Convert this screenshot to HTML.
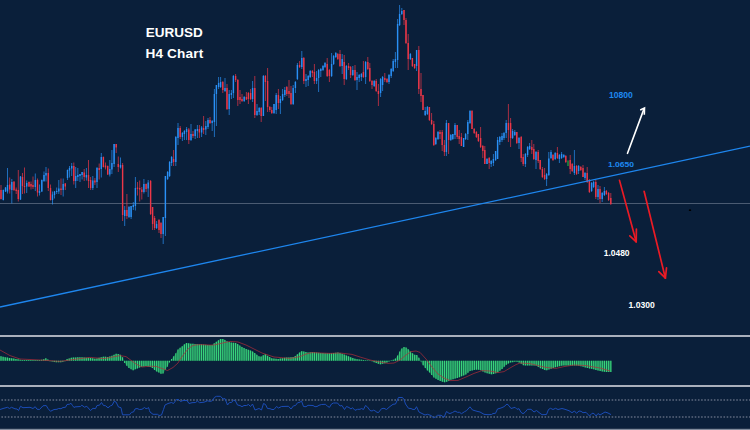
<!DOCTYPE html>
<html><head><meta charset="utf-8"><title>EURUSD H4 Chart</title>
<style>
html,body{margin:0;padding:0;background:#0a1f3a;}
body{width:750px;height:430px;overflow:hidden;position:relative;font-family:"Liberation Sans",sans-serif;}
svg{position:absolute;left:0;top:0;display:block}
text{font-family:"Liberation Sans",sans-serif;font-weight:bold}
</style></head><body>
<svg width="750" height="430" viewBox="0 0 750 430">
<rect x="0" y="0" width="750" height="430" fill="#0a1f3a"/>
<!-- horizontal level -->
<line x1="0" y1="203.5" x2="750" y2="203.5" stroke="#4b5b72" stroke-width="1.2"/>
<!-- candles -->
<g><path d="M3.3 189.5V200.5M5.5 187V192M7.5 168V193.5M11.8 179V203.5M20.5 176V200M26.7 180.5V193M35.3 173.5V191M39.5 184.5V195.5M41.8 179.5V192M44 171.5V182M46 167V181.5M52.5 191.5V204.5M54.5 191V198.5M56.7 187.5V194M58.8 180V194M63.2 178.5V196.5M67.5 169.5V180M69.5 166V177.5M71.7 163V176M75.7 167V188M77.8 168V181M80 174V182M82.1 172V179.5M86.4 168V180.5M92.8 176V190M97 167V188M101.3 153V177.5M109.8 160V176.5M111.9 150V174M114.1 144V167M120.5 157.5V168.5M124.7 206V226M129 206V218M131.1 206V219M133.3 202V210M135.4 177V210.5M143.9 179V193.5M148.2 180V197M156.6 221V229M163.2 217V244M165.4 176V236M167.6 171V180M169.6 161V177M171.6 156V166M175.8 136V166M178 123V145M182.4 132V141M184.4 130V140M186.6 127V140M191 124V141M195.2 129V139M197.4 125V138M201.6 126V137M205.8 121V135M208 118V129M212.2 120V131M214.4 89V137M216.4 85V126M218.6 77V89M220.6 77V88M225 78V92M229.2 90V115M231.4 90V99M233.4 75V98M244.2 96V102M252.6 81V102M257 104V116M259.2 107V115M263.4 75V116M274 104V114M276.2 93V114M280.4 96V114M282.6 89V101M284.8 87V97M293.2 85V105M295.4 81V93M297.4 63V80M301.8 51V69M306 74V87M308.2 75V86M310.2 70V78M316.6 71V84M318.6 69V92M320.8 68V77M323 65V71M325 62V68M331.6 53V77M333.6 55V65M335.8 52V58M342.2 54V74M346.4 65V80M352.8 66V76M357 72V90M359.2 74V82M361.4 73V81M365.6 61V84M374.2 80V87M380.6 78V97M382.6 76V91M389 74V84M391.2 68V78M393.2 59V72M395.4 52V68M397.6 19V68M399.6 5V26M401.8 8V15M410.4 53V60M416.6 50V71M425.2 107V116M427.4 106V115M435.8 137V145M438 131V140M446.4 120V156M450.8 134V141M452.8 134V140M455 123V139M463.6 138V147M465.6 133V140M467.8 120V140M470 110V124M487 158V164M491.2 160V167M493.4 154V166M495.6 151V161M497.6 137V159M499.8 136V145M502 133V142M504 132V140M506.2 120V138M512.6 129V139M514.8 130V136M519 137V149M525.4 153V167M527.6 146V157M529.6 143V150M536 151V169M546.6 173V186M548.8 152V176M551 150V159M555.2 152V160M559.4 154V163M561.6 152V159M563.8 154V158M574.4 150V175M578.6 165V174M585 172V180M591.6 182V192M593.6 181V188M598 185V200M602.2 192V202M604.4 187V196" stroke="#2a90f6" stroke-width="0.7" fill="none"/><path d="M3.3 190V200M5.5 187.5V191.5M7.5 185V191.5M11.8 182V190M20.5 176.5V199.5M26.7 183V186.5M35.3 180V187M39.5 191V193M41.8 180V191.5M44 175V181M46 173V175.5M52.5 194.5V200M54.5 191.5V195M56.7 191V192M58.8 188.5V191.5M63.2 184V190M67.5 170V178M69.5 168V170.5M71.7 166V168.5M75.7 176V181M77.8 175V177M80 174V176M82.1 172V175M86.4 175V177.5M92.8 180.5V188M97 168V182M101.3 157V169M109.8 169V174.5M111.9 163V169.5M114.1 144V164M120.5 165V167.5M124.7 210V216M129 207V217M131.1 206V217M133.3 205V207M135.4 188V206M143.9 184V192M148.2 182.5V188.5M156.6 224V228M163.2 217V234M165.4 176V218M167.6 172V179M169.6 162V176M171.6 157V163M175.8 137V162M178 128V138M182.4 133V137M184.4 131V134M186.6 129V132M191 134V140M195.2 129.6V136M197.4 129V131M201.6 127.6V132.4M205.8 126V129.6M208 120V127M212.2 121V123M214.4 94V122M216.4 85V94M218.6 83V87M220.6 82V87M225 88V91M229.2 94V109M231.4 93V95M233.4 76V93M244.2 97V101M252.6 88V99M257 111V115M259.2 108V112M263.4 76V116M274 104V113M276.2 95V110M280.4 99V103M282.6 94V100M284.8 90V95M293.2 88V104M295.4 82V88M297.4 65V79M301.8 58V67M306 79V81M308.2 76V80M310.2 71V77M316.6 78V81M318.6 70V78M320.8 69V71M323 66V70M325 63V67M331.6 64V76M333.6 56V64M335.8 53V57M342.2 59V66M346.4 66V79M352.8 70V75M357 77V80M359.2 75V78M361.4 74V77M365.6 62V77M374.2 81V86M380.6 79V93M382.6 77V85M389 75V82M391.2 69V76M393.2 61V71M395.4 59V62M397.6 24V60M399.6 14V25M401.8 11V14M410.4 54V59M416.6 50V66M425.2 111V115M427.4 107V114M435.8 138V144M438 132V139M446.4 123V152M450.8 135V140M452.8 134V139M455 125V135M463.6 138V147M465.6 134V139M467.8 122V134M470 111V123M487 159V164M491.2 161V164M493.4 159V163M495.6 151V160M497.6 140V159M499.8 137V142M502 136V140M504 133V138M506.2 123V133M512.6 131V138M514.8 132V135M519 138V143M525.4 154V164M527.6 147V155M529.6 146V149M536 152V160M546.6 174V179M548.8 158.4V175M551 152V158M555.2 153V159M559.4 155V159M561.6 154V158M563.8 155V157M574.4 166V173M578.6 166V171M585 173V178M591.6 183V191M593.6 182V187M598 189V197M602.2 193V199M604.4 191V195" stroke="#2a90f6" stroke-width="1.4" fill="none"/><path d="M1 185V199.5M9.7 177.5V193.5M14 181.5V191M16.2 187.5V194M18.3 170V201.5M22.5 173V194M24.5 167.5V193.5M29 181.5V187M31 181.5V189.5M33 176.5V189M37.5 178.5V196.5M48.3 168.5V191M50.5 184.5V200.5M61 178.5V195M65.3 183V190M73.8 162.5V184.5M84.2 169V181M88.5 160V188M90.6 177V190M94.9 178V185M99.2 163.5V179.5M103.4 156.5V167.5M105.5 162.5V169.5M107.7 165.5V175M116.2 144V153M118.3 156.5V172M122.6 163V221M126.9 194V219M137.5 182V195.5M139.7 180.5V201.5M141.8 187V199.5M146.1 183.5V192M150.6 180V215M152.6 207V230M154.6 216V230M159 219V233M161 222V238M173.6 150V166M180.2 126V139M188.8 128V144M193 131V138M199.4 125V138M203.6 116V134M210 117V124M222.8 81V93M227 84V110M235.6 74V82M237.8 79V106M240 90V104M242 94V102M246.4 92V100M248.4 92V104M250.6 89V100M254.8 76V118M261.2 107V122M265.4 75V101M267.6 68V112M269.8 106V112M271.8 107V114M278.4 89V109M286.8 86V96M289 80V98M291 86V105M299.6 61V68M303.8 57V84M312.4 70V77M314.4 64V84M327.2 58V77M329.4 69V82M337.8 53V60M340 50V67M344.2 55V85M348.6 63V70M350.6 66V78M355 65V81M363.4 61V78M367.8 57V70M369.8 63V82M372 80V89M376.2 79V92M378.4 84V106M384.8 73V82M387 78V83M404 10V25M406 18V44M408.2 34V70M412.4 58V67M414.6 64V69M418.8 46V94M421 73V102M423 95V110M429.4 107V121M431.6 113V125M433.8 121V146M440 130V139M442.2 130V151M444.4 140V156M448.6 123V154M457.2 125V139M459.2 130V144M461.4 133V146M472 110V129M474.2 128V134M476.4 131V138M478.4 134V142M480.6 127V148M482.8 145V158M484.8 146V164M489.2 157V169M508.4 104V142M510.6 118V147M516.8 132V144M521.2 136V162M523.2 154V166M531.8 140V154M533.8 144V160M538.2 150V163M540.2 160V170M542.4 167V178M544.6 168V180M553 154V161M557.4 147V159M565.8 155V163M570.2 155V174M572.2 163V172M576.6 165V175M580.8 166V171M583 165V177M587.2 167V183M589.4 179V193M595.8 180V199M600 186V203M606.4 190V195M608.6 192V201M610.8 193V205" stroke="#ec3748" stroke-width="0.7" fill="none"/><path d="M1 190V199M9.7 184.5V189.5M14 181.5V190M16.2 189.5V191M18.3 190V199M22.5 177V186M24.5 186V187M29 182V186.5M31 184V186.5M33 185V187M37.5 180V192.5M48.3 173V188M50.5 188V200M61 188.5V190M65.3 183.5V186.5M73.8 166V181M84.2 172.5V177M88.5 175V181M90.6 180V188M94.9 180.5V182.5M99.2 168V170M103.4 157V167M105.5 165.5V167.5M107.7 166V174.5M116.2 144V147.5M118.3 164V167M122.6 165V215M126.9 210V216M137.5 187.5V189M139.7 188V189.5M141.8 189.5V192M146.1 184V189M150.6 181V214M152.6 207V224M154.6 218V228M159 220V230M161 223V234M173.6 159V162M180.2 128V137M188.8 129.6V140M193 134V136M199.4 129V132.4M203.6 128V130M210 120V123M222.8 82V90M227 88V109M235.6 76V80M237.8 80V100M240 97V100M242 99V101M246.4 97V99.4M248.4 93V99M250.6 93V99M254.8 88V115M261.2 108V116M265.4 76V82M267.6 81V107M269.8 107V110M271.8 110V113M278.4 95V103M286.8 87V94M289 91V94M291 93V104M299.6 65V67M303.8 58V81M312.4 71V73M314.4 72V81M327.2 64V76M329.4 70V76M337.8 54V59M340 54V66M344.2 62V79M348.6 66V68M350.6 67V75M355 70V80M363.4 72V77M367.8 62V69M369.8 68V81M372 81V85M376.2 81V91M378.4 91V94M384.8 78V80M387 79V82M404 10V20M406 20V43M408.2 43V59M412.4 58V66M414.6 64V68M418.8 50V89M421 89V96M423 95V110M429.4 107V120M431.6 120V124M433.8 124V145M440 132V134M442.2 132V145M444.4 145V152M448.6 123V140M457.2 125V137M459.2 136V139M461.4 137V146M472 111V129M474.2 129V133M476.4 132V137M478.4 134V141M480.6 138V147M482.8 146V151M484.8 150V164M489.2 158V163M508.4 123V130M510.6 123V138M516.8 132V143M521.2 137V158M523.2 157V164M531.8 147V150M533.8 149V159M538.2 152V161M540.2 160V169M542.4 169V177M544.6 175V179M553 155V160M557.4 153V158M565.8 156V162M570.2 160V169M572.2 164V171M576.6 166V174M580.8 167V170M583 168V177M587.2 173V182M589.4 180V192M595.8 182V197M600 189V199M606.4 191V194M608.6 193V200M610.8 198V204" stroke="#ec3748" stroke-width="1.4" fill="none"/><path d="M568 160.6V166" stroke="#1f9a3c" stroke-width="0.7" fill="none"/><path d="M568 160.6V166" stroke="#1f9a3c" stroke-width="1.1" fill="none"/></g>
<!-- trend line -->
<line x1="0" y1="307" x2="750" y2="146.2" stroke="#1e86ee" stroke-width="1.3"/>
<!-- title -->
<text x="145.8" y="37" font-size="13.5" fill="#ffffff">EURUSD</text>
<text x="145.5" y="57.7" font-size="13.6" letter-spacing="0.15" fill="#ffffff">H4 Chart</text>
<!-- labels -->
<text x="608.9" y="97.8" font-size="8.2" textLength="23.9" lengthAdjust="spacingAndGlyphs" fill="#1e88f0">10800</text>
<text x="608" y="167.2" font-size="7.3" textLength="26.1" lengthAdjust="spacingAndGlyphs" fill="#1e88f0">1.0650</text>
<text x="603.7" y="256" font-size="8.3" textLength="25.9" lengthAdjust="spacingAndGlyphs" fill="#ffffff">1.0480</text>
<text x="628.5" y="307.9" font-size="8.3" textLength="26.2" lengthAdjust="spacingAndGlyphs" fill="#ffffff">1.0300</text>
<!-- white arrow -->
<g stroke="#ffffff" stroke-width="1.6" fill="none" stroke-linejoin="miter">
<path d="M627.5 153.3L643.8 109.4" stroke-linecap="round"/>
<path d="M640.2 110L644.5 108.1L644.3 114.7"/>
</g>
<!-- red arrows -->
<g stroke="#ea1b25" stroke-width="1.7" fill="none" stroke-linecap="round" stroke-linejoin="round">
<path d="M619.5 180.4L636.2 241.8"/>
<path d="M629.8 235.9L636.2 241.8L636.4 229"/>
<path d="M644.1 191.3L665.4 278.2"/>
<path d="M658.8 271.6L665.4 278.2L666.5 267.8"/>
</g>
<!-- dot -->
<ellipse cx="690" cy="210.2" rx="1.25" ry="0.85" fill="#000000"/>
<!-- panel separators -->
<rect x="0" y="335" width="750" height="2" fill="#aab0bc"/>
<rect x="0" y="385" width="750" height="2" fill="#aab0bc"/>
<rect x="0" y="428.8" width="750" height="1.2" fill="#808b9c"/>
<!-- MACD -->
<path d="M0 360.7L0 356L4 357L10 358L18 359.3L22 359.9L40 359.9L44 359.3L46 358.2L48 359.5L50 361L55 362.2L62 362.2L65 361L67 359L72 357.6L80 357.2L86 357.6L90 358L96 358.8L100 357.5L104 356.6L108 357L112 355.8L116 353.8L119 354L121 355.2L123 358L124 362L126 365L129 368L133 370.4L137 368.6L141 367L146 366L150 367L152.5 368L154.5 370L156.8 371.5L159 372.5L161.2 374L163.3 373.5L165.5 369.5L167.8 366L169.7 362L171.5 359L174 356L176 353L178.3 349L180.5 347.5L182.5 346L184.5 344L186.5 343L190 343.6L196 344L202 344.4L208 345L212 345L216 342L220 339L224 339L226 341L230 342.4L236 343L239 345L242 347L246 349L252 351L256 354L260 357L262 356L265 354L268 356L272 358.4L278 359L286 357.6L294 357L299 353L300 352L302 351L308 352.4L312 352L320 353L330 353.4L338 352.4L344 354.4L350 357L356 359L364 360L370 360.5L376 363L380 364.4L386 363L391 360.5L395 359L398 355L401 349L404 347L406 347.4L409 350L412 353L415 355L417 355L419 358L420.5 360L422 364L423 365L426 369L430 373L434 377.6L438 380L442 381.6L445 382.4L449 381L450 380L454 379L460 377L466 374.4L470 371L476 369.6L480 370L486 373L492 374.4L497 373L502 369L506 365L510 362.6L516 361.6L519 362.4L524 365.6L530 365.6L536 365.6L540 368L546 370.6L550 369L556 367L562 365.6L570 365.6L578 365.6L586 367.6L594 369.4L600 371L606 372L611.6 372L611.6 360.7 Z" fill="#17634e" fill-opacity="0.85" stroke="none"/>
<path d="M1 360.7V356.25M3.13 360.7V356.78M5.26 360.7V357.21M7.4 360.7V357.57M9.53 360.7V357.92M11.66 360.7V358.27M13.79 360.7V358.62M15.93 360.7V358.96M18.06 360.7V359.31M20.19 360.7V359.63M22.32 360.7V359.9M24.45 360.7V359.9M26.59 360.7V359.9M28.72 360.7V359.9M30.85 360.7V359.9M32.98 360.7V359.9M35.12 360.7V359.9M37.25 360.7V359.9M39.38 360.7V359.9M41.51 360.7V359.67M43.64 360.7V359.35M45.78 360.7V358.32M47.91 360.7V359.44M50.04 360.7V361.2M52.17 360.7V361.52M54.3 360.7V362.03M56.44 360.7V362.2M58.57 360.7V362.2M60.7 360.7V362.2M62.83 360.7V361.87M64.97 360.7V361.2M67.1 360.7V358.97M69.23 360.7V358.38M71.36 360.7V357.78M73.49 360.7V357.53M75.63 360.7V357.42M77.76 360.7V357.31M79.89 360.7V357.21M82.02 360.7V357.33M84.16 360.7V357.48M86.29 360.7V357.63M88.42 360.7V357.84M90.55 360.7V358.07M92.68 360.7V358.36M94.82 360.7V358.64M96.95 360.7V358.49M99.08 360.7V357.8M101.21 360.7V357.23M103.35 360.7V356.75M105.48 360.7V356.75M107.61 360.7V356.96M109.74 360.7V356.48M111.87 360.7V355.84M114.01 360.7V354.8M116.14 360.7V353.81M118.27 360.7V353.95M120.4 360.7V354.84M122.54 360.7V357.35M124.67 360.7V363M126.8 360.7V365.8M128.93 360.7V367.93M131.06 360.7V369.24M133.2 360.7V370.31M135.33 360.7V369.35M137.46 360.7V368.42M139.59 360.7V367.56M141.73 360.7V366.85M143.86 360.7V366.43M145.99 360.7V366M148.12 360.7V366.53M150.25 360.7V367.1M152.39 360.7V367.95M154.52 360.7V370.01M156.65 360.7V371.4M158.78 360.7V372.4M160.92 360.7V373.81M163.05 360.7V373.56M165.18 360.7V370.08M167.31 360.7V366.74M169.44 360.7V362.54M171.58 360.7V358.91M173.71 360.7V356.35M175.84 360.7V353.24M177.97 360.7V349.57M180.1 360.7V347.77M182.24 360.7V346.2M184.37 360.7V344.13M186.5 360.7V343M188.63 360.7V343.37M190.77 360.7V343.65M192.9 360.7V343.79M195.03 360.7V343.94M197.16 360.7V344.08M199.29 360.7V344.22M201.43 360.7V344.36M203.56 360.7V344.56M205.69 360.7V344.77M207.82 360.7V344.98M209.96 360.7V345M212.09 360.7V344.93M214.22 360.7V343.33M216.35 360.7V341.74M218.48 360.7V340.14M220.62 360.7V339M222.75 360.7V339M224.88 360.7V339.88M227.01 360.7V341.35M229.15 360.7V342.1M231.28 360.7V342.53M233.41 360.7V342.74M235.54 360.7V342.95M237.67 360.7V344.12M239.81 360.7V345.54M241.94 360.7V346.96M244.07 360.7V348.04M246.2 360.7V349.07M248.34 360.7V349.78M250.47 360.7V350.49M252.6 360.7V351.45M254.73 360.7V353.05M256.86 360.7V354.65M259 360.7V356.25M261.13 360.7V356.44M263.26 360.7V355.16M265.39 360.7V354.26M267.53 360.7V355.68M269.66 360.7V356.99M271.79 360.7V358.27M273.92 360.7V358.59M276.05 360.7V358.81M278.19 360.7V358.97M280.32 360.7V358.59M282.45 360.7V358.22M284.58 360.7V357.85M286.71 360.7V357.55M288.85 360.7V357.39M290.98 360.7V357.23M293.11 360.7V357.07M295.24 360.7V356.01M297.38 360.7V354.3M299.51 360.7V352.49M301.64 360.7V351.18M303.77 360.7V351.41M305.9 360.7V351.91M308.04 360.7V352.4M310.17 360.7V352.18M312.3 360.7V352.04M314.43 360.7V352.3M316.57 360.7V352.57M318.7 360.7V352.84M320.83 360.7V353.03M322.96 360.7V353.12M325.09 360.7V353.2M327.23 360.7V353.29M329.36 360.7V353.37M331.49 360.7V353.21M333.62 360.7V352.95M335.76 360.7V352.68M337.89 360.7V352.41M340.02 360.7V353.07M342.15 360.7V353.78M344.28 360.7V354.52M346.42 360.7V355.45M348.55 360.7V356.37M350.68 360.7V357.23M352.81 360.7V357.94M354.95 360.7V358.65M357.08 360.7V359.13M359.21 360.7V359.4M361.34 360.7V359.67M363.47 360.7V359.93M365.61 360.7V360.13M367.74 360.7V360.2M369.87 360.7V360.2M372 360.7V361.33M374.13 360.7V362.22M376.27 360.7V363.09M378.4 360.7V363.84M380.53 360.7V364.28M382.66 360.7V363.78M384.8 360.7V363.28M386.93 360.7V362.54M389.06 360.7V361.47M391.19 360.7V360.2M393.32 360.7V359.63M395.46 360.7V358.39M397.59 360.7V355.55M399.72 360.7V351.56M401.85 360.7V348.43M403.99 360.7V347.01M406.12 360.7V347.5M408.25 360.7V349.35M410.38 360.7V351.38M412.51 360.7V353.34M414.65 360.7V354.76M416.78 360.7V355M418.91 360.7V357.87M421.04 360.7V361.45M423.18 360.7V365.23M425.31 360.7V368.08M427.44 360.7V370.44M429.57 360.7V372.57M431.7 360.7V374.96M433.84 360.7V377.41M435.97 360.7V378.78M438.1 360.7V380.04M440.23 360.7V380.89M442.37 360.7V381.7M444.5 360.7V382.27M446.63 360.7V381.83M448.76 360.7V381.08M450.89 360.7V379.78M453.03 360.7V379.24M455.16 360.7V378.61M457.29 360.7V377.9M459.42 360.7V377.19M461.56 360.7V376.33M463.69 360.7V375.4M465.82 360.7V374.48M467.95 360.7V372.74M470.08 360.7V370.98M472.22 360.7V370.48M474.35 360.7V369.99M476.48 360.7V369.65M478.61 360.7V369.86M480.75 360.7V370.37M482.88 360.7V371.44M485.01 360.7V372.5M487.14 360.7V373.27M489.27 360.7V373.76M491.41 360.7V374.26M493.54 360.7V373.97M495.67 360.7V373.37M497.8 360.7V372.36M499.93 360.7V370.65M502.07 360.7V368.93M504.2 360.7V366.8M506.33 360.7V364.8M508.46 360.7V363.52M510.6 360.7V362.5M512.73 360.7V362.15M514.86 360.7V361.79M516.99 360.7V361.86M519.12 360.7V362.48M521.26 360.7V363.84M523.39 360.7V365.21M525.52 360.7V365.6M527.65 360.7V365.6M529.79 360.7V365.6M531.92 360.7V365.6M534.05 360.7V365.6M536.18 360.7V365.71M538.31 360.7V366.99M540.45 360.7V368.19M542.58 360.7V369.12M544.71 360.7V370.04M546.84 360.7V370.26M548.98 360.7V369.41M551.11 360.7V368.63M553.24 360.7V367.92M555.37 360.7V367.21M557.5 360.7V366.65M559.64 360.7V366.15M561.77 360.7V365.65M563.9 360.7V365.6M566.03 360.7V365.6M568.17 360.7V365.6M570.3 360.7V365.6M572.43 360.7V365.6M574.56 360.7V365.6M576.69 360.7V365.6M578.83 360.7V365.81M580.96 360.7V366.34M583.09 360.7V366.87M585.22 360.7V367.41M587.36 360.7V367.9M589.49 360.7V368.38M591.62 360.7V368.86M593.75 360.7V369.34M595.88 360.7V369.9M598.02 360.7V370.47M600.15 360.7V371.02M602.28 360.7V371.38M604.41 360.7V371.74M606.54 360.7V372M608.68 360.7V372M610.81 360.7V372" stroke="#38d47c" stroke-width="1.2" fill="none"/>
<polyline points="0,350 10,355.6 20,359 40,360 60,361.4 80,358.6 90,357.4 104,358.6 120,355.6 126,356.6 136,364 142,367 150,366.2 156,366.4 162,368.5 167.5,370.5 173,367.5 178,363 180,359.5 184,354 188,349 192,346 195,345 200,344.6 210,345 214,345 220,343.6 230,341.4 238,342 246,345 254,349 262,353 274,357 290,358.4 300,356.6 306,354 312,352.6 330,353.4 340,353 352,354.4 360,357 370,360 380,362 388,363.4 394,363 400,360 406,355 411,351.6 416,351 420,352.4 426,359 432,367 438,374 444,378 450,380.6 458,380.4 466,377 474,373.4 482,370.6 490,371 498,372.6 504,371.6 510,368 516,364.6 520,363 530,363.6 538,365.6 546,367.4 556,368.4 564,366.6 574,365 586,365.6 594,367 600,368 610,371" fill="none" stroke="#b02d3a" stroke-width="0.7" stroke-linejoin="round"/>
<!-- RSI -->
<line x1="1.4" y1="399.9" x2="750" y2="399.9" stroke="#5c687e" stroke-width="1.5" stroke-dasharray="1.6 1.595"/>
<line x1="1.4" y1="416.9" x2="750" y2="416.9" stroke="#5c687e" stroke-width="1.5" stroke-dasharray="1.6 1.595"/>
<polyline points="0,409.5 3,408.5 7.5,407.3 9.5,408.5 11.5,407.3 15,408.8 17,409 18.5,410.5 20.5,406.3 23,407.7 30,407.3 33,408.5 35.2,406.7 37,409.2 39.5,409.5 43,405.8 46.2,405.5 48,408.5 50.5,411.3 54,409.5 57,409.3 58.5,408.5 61,408.7 63,407.5 65.5,407.3 67,404.5 69.5,404.2 71,403.3 72.5,405.5 74,407.5 75,406.9 80.5,406.5 81.8,405.2 84.5,407.2 86.8,406.3 90.5,410.5 93,408.3 95.5,408.7 97,405.5 99.5,405.2 101.5,402.5 103.5,405.5 105.5,405.7 108,407.8 110.5,405.8 112.2,405.2 114.2,401.3 116,402 118.5,407 121,407.7 122.5,414.8 129.5,414.8 131.5,412.3 133.5,412 135,409 137,408.5 139.5,409.5 142,409.3 144.5,407.5 146,408.7 147.5,408.3 148.5,407.5 149.5,410.5 150,412 153,414.3 157.5,414.3 159,415.5 161.5,415 163.5,409.5 165,405 168,403.5 171.5,402.5 173.5,403.5 176.5,399.5 178.5,399.5 180.5,401.5 183,400.5 187,400.5 189,403.5 192,402.7 195.5,402.5 197.5,401 199.5,402.7 204,402.2 207.5,400.8 210.5,401.5 212.5,400.5 214.5,397.3 216.5,396.3 220.5,396.3 223,399 225,398.6 227.5,405 229.5,402.5 231.5,402.5 233.5,400 235.5,401 237.5,405 240,405.5 242,406.7 244,405.5 246.5,405.5 248.5,404.5 250.5,406.5 252.5,404 255,410 259,408.5 261.5,410 263.5,403.5 265.5,404.5 267.5,408.5 270,408.7 272,409.5 274,409.5 276.5,406.5 278.5,408 281.5,406.5 288.5,406.3 291,409 293.5,405.8 295.5,405.5 297.5,402.8 300,402.2 301.5,401 303.5,406.5 306,406.7 308,405.3 313,405.5 315,406.7 317,406.5 319,405.3 321.5,404.5 325.5,404.3 327.5,406.3 329.5,407.3 331.5,404 333.5,403 337.5,403 340,406 342,405.5 344.5,409.5 346.5,406.5 349,407.5 351,409 352.5,407.7 355,410.3 357.5,409.3 360,409.3 361.5,408.5 363.5,409.5 365.5,405.5 367.5,407 370,410.5 372,411 373.5,410.2 375,410.8 377,412.3 378.5,412.5 381.5,408.7 384,408.3 386.5,409.5 390,406.5 393,404.3 395.5,404 398.5,397.5 402.5,397.5 404,399.5 405.5,404 408.5,408.3 411,408.5 413,409.5 415,409.3 416.5,406.7 419,412 422,413.5 425,415 427.5,414.3 431,415.5 433.5,417.7 435.5,417 437.5,415.3 441,415.3 444,417.3 446.5,411.5 449,413.3 450,413.5 452.5,412.5 455,411 457.5,412.3 459.5,412.3 461.5,413.7 464.5,411.7 466.5,410.7 470,406.8 472.5,410 477,411.3 480,412 484,414.3 488,414.7 491.5,414.5 493,413.5 495.5,413.3 497.5,409 501,408 504,406.7 507,404 509,405.7 511,408.5 515,407.3 517,409.3 519,408.7 521,412.3 523,413.7 525,412.3 527.5,409.3 531,409.3 534,412 536.5,410.5 539,412.5 542,414.7 546.5,414.5 548.5,409.5 550.5,408.3 553,409.5 555.5,408.3 558,409.5 562,408.5 565,409.3 569,410.7 572,412.7 574.5,411 576.5,413.3 579,411 581,411.3 583,412.7 586,412.3 589.5,416 592,413.3 594,413.5 596,416 598,413.5 600,415 605,412 608,413 611,414.6" fill="none" stroke="#1b4cb6" stroke-width="1" stroke-linejoin="round"/>
</svg>
</body></html>
